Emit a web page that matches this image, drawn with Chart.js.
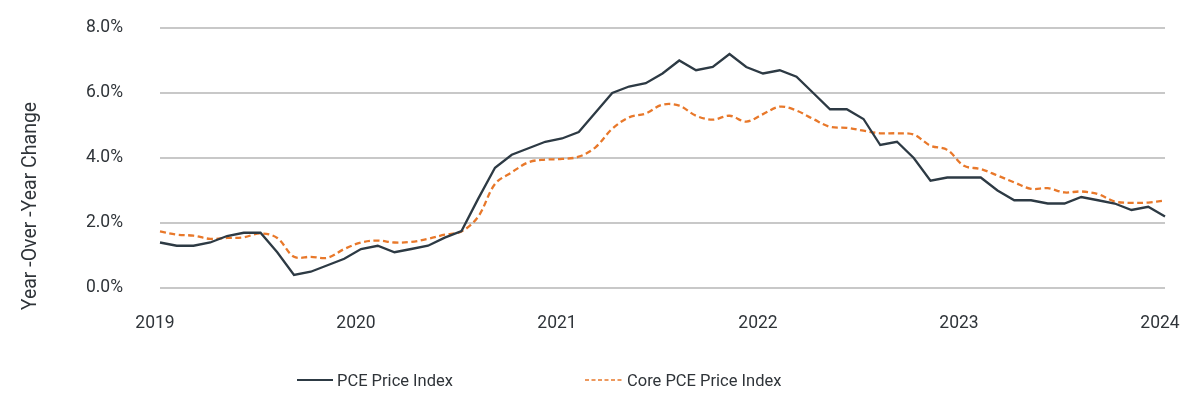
<!DOCTYPE html>
<html>
<head>
<meta charset="utf-8">
<script src="https://cdn.jsdelivr.net/npm/chart.js@4/dist/chart.umd.min.js"></script>
<style>
  html, body { margin: 0; padding: 0; background: #ffffff; }
  #wrap { position: relative; width: 1200px; height: 400px; }
  .leg { position: absolute; top: 369px; height: 22px; display: flex; align-items: center;
         font-family: Roboto, sans-serif;
         font-size: 16.5px; color: #2f3439; white-space: nowrap; }
  .leg svg { margin-right: 4px; }
</style>
</head>
<body>
<div id="wrap">
  <canvas id="c" width="1200" height="400"></canvas>
  <div class="leg" style="left:297px;"><svg width="36" height="4"><line x1="0" y1="2" x2="36" y2="2" stroke="#2d3a44" stroke-width="2"/></svg><span>PCE Price Index</span></div>
  <div class="leg" style="left:585px;"><svg width="38" height="4"><line x1="0" y1="2" x2="38" y2="2" stroke="#e8782a" stroke-width="1.6" stroke-dasharray="4,2.5"/></svg><span>Core PCE Price Index</span></div>
</div>
<script>
// ---- data ----
const months = [
  "2019-01","2019-02","2019-03","2019-04","2019-05","2019-06","2019-07","2019-08","2019-09","2019-10","2019-11","2019-12",
  "2020-01","2020-02","2020-03","2020-04","2020-05","2020-06","2020-07","2020-08","2020-09","2020-10","2020-11","2020-12",
  "2021-01","2021-02","2021-03","2021-04","2021-05","2021-06","2021-07","2021-08","2021-09","2021-10","2021-11","2021-12",
  "2022-01","2022-02","2022-03","2022-04","2022-05","2022-06","2022-07","2022-08","2022-09","2022-10","2022-11","2022-12",
  "2023-01","2023-02","2023-03","2023-04","2023-05","2023-06","2023-07","2023-08","2023-09","2023-10","2023-11","2023-12",
  "2024-01"
];
const pce = [
  1.4, 1.3, 1.3, 1.4, 1.6, 1.7, 1.7, 1.1, 0.4, 0.5, 0.7, 0.9,
  1.2, 1.3, 1.1, 1.2, 1.3, 1.55, 1.75, 2.75, 3.7, 4.1, 4.3, 4.5,
  4.6, 4.8, 5.4, 6.0, 6.2, 6.3, 6.6, 7.0, 6.7, 6.8, 7.2, 6.8,
  6.6, 6.7, 6.5, 6.0, 5.5, 5.5, 5.2, 4.4, 4.5, 4.0, 3.3, 3.4,
  3.4, 3.4, 3.0, 2.7, 2.7, 2.6, 2.6, 2.8, 2.7, 2.6, 2.4, 2.5,
  2.2
];
const corePce = [
  1.74, 1.64, 1.61, 1.51, 1.54, 1.56, 1.68, 1.54, 0.96, 0.96, 0.93, 1.2,
  1.4, 1.46, 1.40, 1.42, 1.51, 1.64, 1.74, 2.2, 3.2, 3.56, 3.87, 3.95,
  3.97, 4.04, 4.33, 4.9, 5.25, 5.37, 5.64, 5.61, 5.30, 5.18, 5.30, 5.12,
  5.35, 5.58, 5.46, 5.20, 4.96, 4.93, 4.84, 4.76, 4.76, 4.72, 4.38, 4.25,
  3.76, 3.66, 3.46, 3.25, 3.05, 3.07, 2.94, 2.97, 2.89, 2.66, 2.62, 2.63,
  2.69
];
const yTicks = [0, 2, 4, 6, 8];
const seriesNames = ["PCE Price Index", "Core PCE Price Index"];
const yTitle = "Year -Over -Year Change";

const FONT = 'Roboto, sans-serif';

const yTitlePlugin = {
  id: 'yTitle',
  afterDraw(chart) {
    const ctx = chart.ctx;
    ctx.save();
    ctx.translate(31, 206);
    ctx.rotate(-Math.PI / 2);
    ctx.font = '19.5px ' + FONT;
    ctx.fillStyle = '#2f3439';
    ctx.textAlign = 'center';
    ctx.textBaseline = 'middle';
    ctx.fillText(yTitle, 0, 0);
    ctx.restore();
  }
};

new Chart(document.getElementById('c'), {
  type: 'line',
  data: {
    labels: months,
    datasets: [
      { label: seriesNames[0], data: pce, borderColor: '#2d3a44', borderWidth: 2.3,
        pointRadius: 0, tension: 0, fill: false },
      { label: seriesNames[1], data: corePce, borderColor: '#e8782a', borderWidth: 2.3,
        borderDash: [6, 3.5], pointRadius: 0, tension: 0.35, fill: false }
    ]
  },
  options: {
    responsive: false,
    animation: false,
    layout: { autoPadding: false, padding: { top: 28, right: 35, left: 0, bottom: 0 } },
    plugins: { legend: { display: false }, tooltip: { enabled: false } },
    scales: {
      x: {
        type: 'category',
        offset: false,
        grid: { display: false, drawTicks: false },
        border: { display: false },
        ticks: {
          autoSkip: false, maxRotation: 0, padding: 25, labelOffset: -5,
          color: '#2f3439', font: { family: FONT, size: 17.5 },
          callback: function(v, i) { const m = months[i]; return m.endsWith('-01') ? m.slice(0, 4) : null; }
        },
        afterFit(scale) { scale.height = 112; scale.paddingLeft = 0; scale.paddingRight = 0; }
      },
      y: {
        min: 0, max: 8,
        afterBuildTicks(scale) { scale.ticks = yTicks.map(v => ({ value: v })); },
        grid: { color: '#c8c8c8', lineWidth: 2, drawTicks: false },
        border: { display: false },
        ticks: {
          padding: 37, color: '#2f3439', font: { family: FONT, size: 17.5 },
          callback: v => v.toFixed(1) + '%'
        },
        afterFit(scale) { scale.width = 160; scale.paddingTop = 0; scale.paddingBottom = 0; }
      }
    }
  },
  plugins: [yTitlePlugin]
});
</script>
</body>
</html>
